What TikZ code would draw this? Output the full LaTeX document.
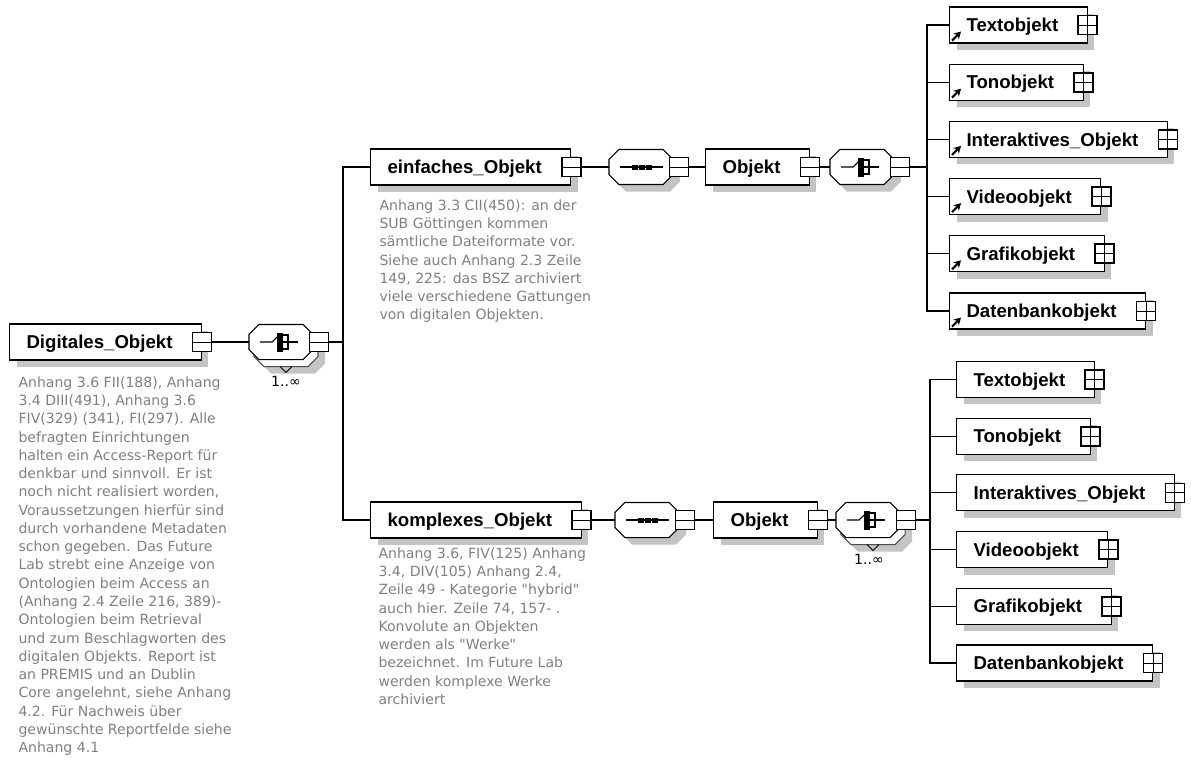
\documentclass[tikz,border=0pt]{standalone}
\usepackage{fontspec}
\setmainfont{Liberation Sans}
\newfontfamily\notefamily{DejaVu Sans}
\usepackage{tikz}
\usetikzlibrary{
    calc,
    arrows.meta,
    shadows
}
\definecolor{notegray}{RGB}{128,128,128}
\definecolor{shadowgray}{RGB}{196,196,196}

% octagon outline of a compositor
\newcommand{\compoutline}[2]{%
    \filldraw[fill=white, #2] ($(#1.north west)+(10,0)$) -- ($(#1.north east)+(-10,0)$)
        -- ($(#1.north east)+(0,10)$) -- ($(#1.south east)+(0,-10)$)
        -- ($(#1.south east)+(-10,0)$) -- ($(#1.south west)+(10,0)$)
        -- ($(#1.south west)+(0,-10)$) -- ($(#1.north west)+(0,10)$) -- cycle;
}
% symbols inside the compositors
\newcommand{\seqsym}[1]{%
    \draw[line width=0.6pt] ($(#1.center)+(-21,0)$) -- ($(#1.center)+(22,0)$);
    \foreach \dx in {-6,1,8} {
        \fill ($(#1.center)+(\dx-3,-2.5)$) rectangle ($(#1.center)+(\dx+3,2.5)$);
    }
}
\newcommand{\choicesym}[1]{%
    \draw[line width=0.6pt] ($(#1.center)+(-21,0)$) -- ($(#1.center)+(-9,0)$) -- ($(#1.center)+(-3,-6)$);
    \fill ($(#1.center)+(-4,-9)$) rectangle ($(#1.center)+(2,10)$);
    \draw[line width=0.6pt] ($(#1.center)+(2,-7)$) -- +(5,0) -- +(5,14) -- +(0,14)
        ($(#1.center)+(2,0)$) -- +(15,0);
}

\begin{document}
\begin{tikzpicture}[x=0.02cm, y=-0.02cm, line width=0.6pt,
        flat shadow/.style={drop shadow={shadow xshift=0.14cm, shadow yshift=-0.14cm, fill=shadowgray, opacity=1}},
        elem box/.style={draw, fill=white, anchor=west, font=\fontsize{10.6}{12}\selectfont\bfseries,
            minimum height=0.72cm, inner xsep=0.34cm, inner ysep=0pt, text height=7.6pt, text depth=0pt,
            execute at end node={\hspace{0.24cm}}, flat shadow},
        btn/.style={draw, line width=1pt, fill=white, minimum size=0.38cm, inner sep=0pt},
        plus btn/.style={btn, path picture={\draw[line width=0.5pt]
            (path picture bounding box.north) -- (path picture bounding box.south)
            (path picture bounding box.west) -- (path picture bounding box.east);}},
        minus btn/.style={btn, path picture={\draw[line width=0.5pt]
            (path picture bounding box.west) -- (path picture bounding box.east);}},
        comp box/.style={rectangle, minimum height=0.68cm, minimum width=1.26cm, inner sep=0pt},
        mult/.style={font=\notefamily\fontsize{8}{10}\selectfont, inner sep=0pt},
        note/.style={anchor=north west, align=left, inner sep=0pt, text=notegray,
            font=\notefamily\fontsize{8}{10.4}\selectfont},
        ref arrow/.style={-{Stealth[length=4pt, width=4.5pt]}, line width=1.2pt}
    ]
    \useasboundingbox (0,0) rectangle (1191,771);

    % root element
    \node[elem box] (digi) at (9,342) {Digitales\_Objekt};
    \node[minus btn] (digi-btn) at (digi.east) {};
    \node[note] (digi-note) at (18,376) {Anhang 3.6 FII(188), Anhang\\3.4 DIII(491), Anhang 3.6\\FIV(329) (341), FI(297). Alle\\befragten Einrichtungen\\halten ein Access-Report für\\denkbar und sinnvoll. Er ist\\noch nicht realisiert worden,\\Voraussetzungen hierfür sind\\durch vorhandene Metadaten\\schon gegeben. Das Future\\Lab strebt eine Anzeige von\\Ontologien beim Access an\\(Anhang 2.4 Zeile 216, 389)-\\Ontologien beim Retrieval\\und zum Beschlagworten des\\digitalen Objekts. Report ist\\an PREMIS und an Dublin\\Core angelehnt, siehe Anhang\\4.2. Für Nachweis über\\gewünschte Reportfelde siehe\\Anhang 4.1};

    \node[comp box] (ch0-stack) at (286,349) {};
    \compoutline{ch0-stack}{draw=black!70, flat shadow}
    \draw[line width=0.5pt] ($(ch0-stack.south)+(-6,0)$) -- ($(ch0-stack.south)+(0,6)$) -- ($(ch0-stack.south)+(6,0)$);
    \node[comp box] (ch0) at (281,342) {};
    \compoutline{ch0}{}
    \choicesym{ch0}
    \node[minus btn] (ch0-btn) at ($(ch0.east)+(6,0)$) {};
    \node[mult] (ch0-mult) at (286,381) {1..∞};
    \coordinate (bus0) at (343,342);
    \draw (digi-btn.east) -- (ch0.west);
    \draw (ch0-btn.east) -- (bus0);

    % einfaches Objekt
    \node[elem box] (einf) at (370,167) {einfaches\_Objekt};
    \node[minus btn] (einf-btn) at (einf.east) {};
    \node[note] (einf-note) at (379,199) {Anhang 3.3 CII(450): an der\\SUB Göttingen kommen\\sämtliche Dateiformate vor.\\Siehe auch Anhang 2.3 Zeile\\149, 225: das BSZ archiviert\\viele verschiedene Gattungen\\von digitalen Objekten.};
    \node[comp box] (seq1) at (641,167) {};
    \compoutline{seq1}{flat shadow}
    \seqsym{seq1}
    \node[minus btn] (seq1-btn) at ($(seq1.east)+(6,0)$) {};
    \node[elem box] (obj1) at (705,167) {Objekt};
    \node[minus btn] (obj1-btn) at (obj1.east) {};
    \node[comp box] (ch1) at (862,167) {};
    \compoutline{ch1}{flat shadow}
    \choicesym{ch1}
    \node[minus btn] (ch1-btn) at ($(ch1.east)+(6,0)$) {};
    \coordinate (bus1) at (927,167);
    \draw (bus0) |- (einf.west);
    \draw (einf-btn.east) -- (seq1.west);
    \draw (seq1-btn.east) -- (obj1.west);
    \draw (obj1-btn.east) -- (ch1.west);
    \draw (ch1-btn.east) -- (bus1);
    \foreach \nm/\lbl [count=\i from 0] in {text/Textobjekt, ton/Tonobjekt, inter/Interaktives\_Objekt, video/Videoobjekt, grafik/Grafikobjekt, db/Datenbankobjekt} {
        \node[elem box] (e-\nm) at (949,25+57.2*\i) {\lbl};
        \node[plus btn] (e-\nm-btn) at (e-\nm.east) {};
        \draw (bus1) |- (e-\nm.west);
        \draw[ref arrow] ($(e-\nm.south west)+(3,-3)$) -- +(9,-9);
    }

    % komplexes Objekt
    \node[elem box] (komp) at (370,520) {komplexes\_Objekt};
    \node[minus btn] (komp-btn) at (komp.east) {};
    \node[note] (komp-note) at (378,547) {Anhang 3.6, FIV(125) Anhang\\3.4, DIV(105) Anhang 2.4,\\Zeile 49 - Kategorie "hybrid"\\auch hier. Zeile 74, 157- .\\Konvolute an Objekten\\werden als "Werke"\\bezeichnet. Im Future Lab\\werden komplexe Werke\\archiviert};
    \node[comp box] (seq2) at (647,520) {};
    \compoutline{seq2}{flat shadow}
    \seqsym{seq2}
    \node[minus btn] (seq2-btn) at ($(seq2.east)+(6,0)$) {};
    \node[elem box] (obj2) at (713,520) {Objekt};
    \node[minus btn] (obj2-btn) at (obj2.east) {};
    \node[comp box] (ch2-stack) at (873,527) {};
    \compoutline{ch2-stack}{draw=black!70, flat shadow}
    \draw[line width=0.5pt] ($(ch2-stack.south)+(-6,0)$) -- ($(ch2-stack.south)+(0,6)$) -- ($(ch2-stack.south)+(6,0)$);
    \node[comp box] (ch2) at (868,520) {};
    \compoutline{ch2}{}
    \choicesym{ch2}
    \node[minus btn] (ch2-btn) at ($(ch2.east)+(6,0)$) {};
    \node[mult] (ch2-mult) at (869,559) {1..∞};
    \coordinate (bus2) at (930,520);
    \draw (bus0) |- (komp.west);
    \draw (komp-btn.east) -- (seq2.west);
    \draw (seq2-btn.east) -- (obj2.west);
    \draw (obj2-btn.east) -- (ch2.west);
    \draw (ch2-btn.east) -- (bus2);
    \foreach \nm/\lbl [count=\i from 0] in {text/Textobjekt, ton/Tonobjekt, inter/Interaktives\_Objekt, video/Videoobjekt, grafik/Grafikobjekt, db/Datenbankobjekt} {
        \node[elem box] (k-\nm) at (956,379.5+56.7*\i) {\lbl};
        \node[plus btn] (k-\nm-btn) at (k-\nm.east) {};
        \draw (bus2) |- (k-\nm.west);
    }

\end{tikzpicture}
\end{document}
